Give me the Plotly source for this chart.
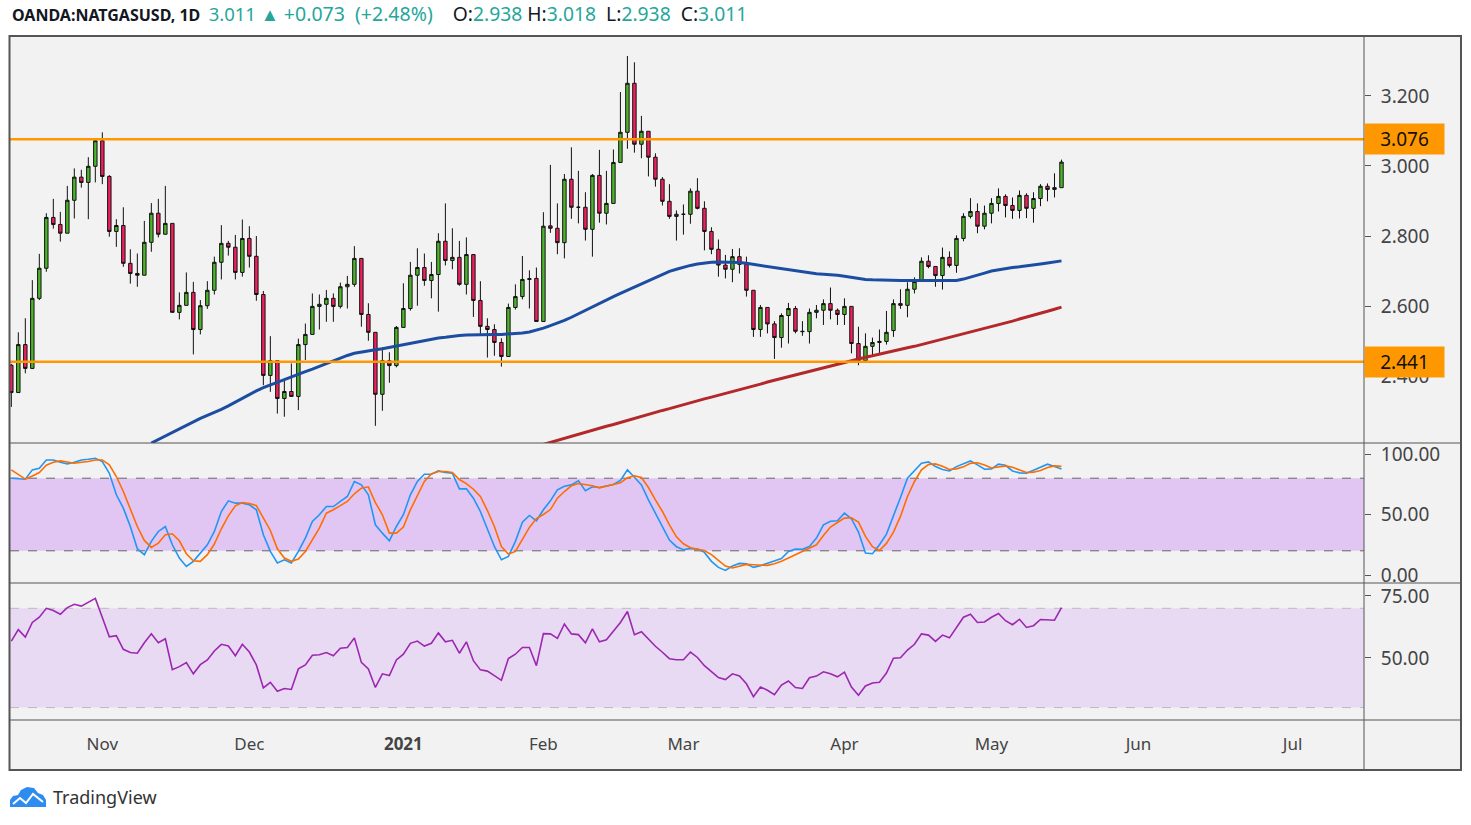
import pandas as pd
import plotly.graph_objects as go

# ---------------- data ----------------
holidays = ["2020-12-25", "2021-01-01", "2021-04-02"]
dates = [d.strftime("%Y-%m-%d") for d in pd.bdate_range("2020-10-14", "2021-05-17")
         if d.strftime("%Y-%m-%d") not in holidays]

open_ = [
    2.431, 2.353, 2.490, 2.422, 2.622, 2.708, 2.853, 2.833, 2.808, 2.902,
    2.968, 2.953, 2.999, 3.072, 2.970, 2.813, 2.830, 2.722, 2.693, 2.688,
    2.782, 2.865, 2.805, 2.836, 2.582, 2.602, 2.639, 2.533, 2.601, 2.645,
    2.725, 2.779, 2.768, 2.696, 2.793, 2.742, 2.633, 2.402, 2.444, 2.336,
    2.356, 2.342, 2.490, 2.519, 2.599, 2.605, 2.622, 2.599, 2.655, 2.662,
    2.736, 2.576, 2.525, 2.348, 2.444, 2.430, 2.539, 2.593, 2.688, 2.710,
    2.673, 2.690, 2.785, 2.730, 2.739, 2.662, 2.747, 2.616, 2.542, 2.533,
    2.496, 2.456, 2.596, 2.627, 2.676, 2.679, 2.556, 2.829, 2.822, 2.781,
    2.962, 2.882, 2.882, 2.819, 2.973, 2.865, 2.893, 3.010, 3.096, 3.236,
    3.062, 3.099, 3.025, 2.962, 2.899, 2.856, 2.862, 2.862, 2.928, 2.879,
    2.813, 2.762, 2.717, 2.705, 2.741, 2.719, 2.645, 2.533, 2.596, 2.549,
    2.510, 2.573, 2.593, 2.528, 2.527, 2.582, 2.588, 2.607, 2.588, 2.576,
    2.599, 2.493, 2.444, 2.485, 2.496, 2.499, 2.530, 2.607, 2.602, 2.648,
    2.670, 2.728, 2.713, 2.687, 2.739, 2.716, 2.793, 2.856, 2.870, 2.828,
    2.865, 2.893, 2.913, 2.887, 2.873, 2.916, 2.879, 2.907, 2.942, 2.933, 2.938,
]
high = [
    2.435, 2.525, 2.565, 2.674, 2.749, 2.865, 2.906, 2.869, 2.943, 2.993,
    2.989, 3.025, 3.079, 3.096, 2.974, 2.848, 2.882, 2.762, 2.750, 2.843,
    2.894, 2.906, 2.943, 2.836, 2.639, 2.696, 2.669, 2.617, 2.671, 2.741,
    2.831, 2.786, 2.803, 2.847, 2.828, 2.800, 2.643, 2.514, 2.444, 2.388,
    2.436, 2.507, 2.550, 2.636, 2.633, 2.646, 2.636, 2.667, 2.686, 2.771,
    2.736, 2.608, 2.525, 2.482, 2.468, 2.543, 2.665, 2.726, 2.765, 2.750,
    2.726, 2.808, 2.893, 2.822, 2.786, 2.796, 2.747, 2.671, 2.565, 2.548,
    2.508, 2.607, 2.662, 2.743, 2.702, 2.710, 2.868, 3.003, 2.893, 2.977,
    3.053, 2.986, 2.925, 2.977, 3.046, 2.986, 3.047, 3.211, 3.314, 3.296,
    3.143, 3.099, 3.036, 2.968, 2.948, 2.873, 2.890, 2.936, 2.965, 2.899,
    2.825, 2.790, 2.746, 2.763, 2.765, 2.741, 2.645, 2.603, 2.596, 2.557,
    2.579, 2.609, 2.600, 2.557, 2.593, 2.603, 2.619, 2.653, 2.593, 2.622,
    2.599, 2.541, 2.522, 2.510, 2.533, 2.586, 2.619, 2.648, 2.668, 2.682,
    2.739, 2.745, 2.713, 2.767, 2.756, 2.802, 2.865, 2.908, 2.893, 2.887,
    2.908, 2.936, 2.919, 2.910, 2.930, 2.922, 2.925, 2.948, 2.950, 2.979, 3.018,
]
low = [
    2.312, 2.353, 2.408, 2.420, 2.617, 2.698, 2.821, 2.784, 2.808, 2.850,
    2.938, 2.848, 2.953, 2.948, 2.798, 2.769, 2.712, 2.664, 2.655, 2.688,
    2.755, 2.796, 2.805, 2.582, 2.562, 2.602, 2.462, 2.519, 2.592, 2.633,
    2.676, 2.744, 2.676, 2.684, 2.710, 2.615, 2.374, 2.355, 2.293, 2.284,
    2.342, 2.303, 2.446, 2.519, 2.533, 2.555, 2.555, 2.593, 2.593, 2.655,
    2.541, 2.501, 2.258, 2.301, 2.381, 2.425, 2.539, 2.587, 2.601, 2.658,
    2.622, 2.584, 2.716, 2.705, 2.658, 2.633, 2.569, 2.520, 2.453, 2.458,
    2.427, 2.456, 2.590, 2.619, 2.593, 2.556, 2.556, 2.809, 2.748, 2.736,
    2.849, 2.836, 2.787, 2.741, 2.838, 2.833, 2.893, 3.010, 3.049, 3.038,
    3.022, 2.970, 2.941, 2.887, 2.849, 2.787, 2.804, 2.835, 2.876, 2.759,
    2.748, 2.684, 2.679, 2.668, 2.693, 2.627, 2.512, 2.512, 2.522, 2.449,
    2.481, 2.493, 2.522, 2.515, 2.493, 2.565, 2.546, 2.562, 2.546, 2.546,
    2.465, 2.431, 2.444, 2.455, 2.465, 2.490, 2.512, 2.592, 2.568, 2.636,
    2.670, 2.708, 2.655, 2.647, 2.710, 2.695, 2.785, 2.850, 2.808, 2.819,
    2.836, 2.870, 2.853, 2.849, 2.850, 2.851, 2.838, 2.885, 2.899, 2.910, 2.938,
]
close = [
    2.353, 2.490, 2.422, 2.622, 2.708, 2.853, 2.833, 2.808, 2.902, 2.968,
    2.953, 2.999, 3.072, 2.970, 2.813, 2.830, 2.722, 2.693, 2.688, 2.782,
    2.865, 2.805, 2.836, 2.582, 2.602, 2.639, 2.533, 2.601, 2.645, 2.725,
    2.779, 2.768, 2.696, 2.793, 2.742, 2.633, 2.402, 2.444, 2.336, 2.356,
    2.342, 2.490, 2.519, 2.599, 2.605, 2.622, 2.599, 2.655, 2.662, 2.736,
    2.576, 2.525, 2.348, 2.444, 2.430, 2.539, 2.593, 2.688, 2.710, 2.673,
    2.690, 2.785, 2.730, 2.739, 2.662, 2.747, 2.616, 2.542, 2.533, 2.496,
    2.456, 2.596, 2.627, 2.676, 2.678, 2.556, 2.828, 2.822, 2.781, 2.962,
    2.882, 2.882, 2.819, 2.973, 2.865, 2.893, 3.010, 3.096, 3.236, 3.062,
    3.099, 3.025, 2.962, 2.899, 2.856, 2.862, 2.862, 2.928, 2.879, 2.813,
    2.762, 2.717, 2.705, 2.741, 2.719, 2.645, 2.533, 2.596, 2.549, 2.510,
    2.573, 2.593, 2.528, 2.527, 2.582, 2.588, 2.607, 2.588, 2.576, 2.599,
    2.493, 2.444, 2.485, 2.496, 2.499, 2.525, 2.607, 2.602, 2.648, 2.670,
    2.728, 2.713, 2.687, 2.739, 2.716, 2.793, 2.856, 2.870, 2.828, 2.865,
    2.893, 2.913, 2.887, 2.873, 2.916, 2.879, 2.907, 2.942, 2.933, 2.938, 3.011,
]

# moving averages (first visible bar index, values)
ma_blue_start = 20
ma_blue = [
    2.209, 2.219, 2.230, 2.240, 2.251, 2.261, 2.270, 2.279, 2.288, 2.296,
    2.305, 2.315, 2.326, 2.337, 2.348, 2.358, 2.367, 2.375, 2.383, 2.391,
    2.398, 2.405, 2.413, 2.420, 2.428, 2.436, 2.444, 2.452, 2.459, 2.465,
    2.469, 2.472, 2.475, 2.478, 2.482, 2.487, 2.491, 2.495, 2.499, 2.502,
    2.506, 2.509, 2.511, 2.514, 2.516, 2.517, 2.518, 2.519, 2.519, 2.519,
    2.519, 2.520, 2.521, 2.523, 2.526, 2.531, 2.537, 2.544, 2.551, 2.559,
    2.568, 2.578, 2.588, 2.598, 2.609, 2.619, 2.627, 2.636, 2.645, 2.653,
    2.662, 2.671, 2.680, 2.690, 2.699, 2.705, 2.711, 2.716, 2.720, 2.723,
    2.725, 2.726, 2.726, 2.725, 2.724, 2.722, 2.719, 2.716, 2.713, 2.710,
    2.707, 2.703, 2.699, 2.696, 2.694, 2.692, 2.691, 2.690, 2.688, 2.685,
    2.682, 2.678, 2.676, 2.675, 2.674, 2.674, 2.674, 2.673, 2.673, 2.673,
    2.672, 2.672, 2.672, 2.672, 2.672, 2.673, 2.677, 2.682, 2.688, 2.694,
    2.700, 2.704, 2.707, 2.710, 2.712, 2.714, 2.717, 2.720, 2.723, 2.726, 2.729,
]
ma_red_start = 76
ma_red = [
    2.205, 2.211, 2.217, 2.222, 2.228, 2.234, 2.240, 2.245, 2.251, 2.257,
    2.262, 2.268, 2.274, 2.280, 2.285, 2.291, 2.296, 2.302, 2.307, 2.313,
    2.318, 2.324, 2.329, 2.335, 2.340, 2.345, 2.351, 2.356, 2.361, 2.367,
    2.372, 2.377, 2.383, 2.388, 2.393, 2.399, 2.404, 2.409, 2.415, 2.420,
    2.425, 2.430, 2.435, 2.440, 2.445, 2.449, 2.454, 2.458, 2.463, 2.467,
    2.472, 2.476, 2.481, 2.485, 2.490, 2.495, 2.500, 2.505, 2.510, 2.515,
    2.520, 2.526, 2.531, 2.536, 2.541, 2.547, 2.552, 2.557, 2.563, 2.568,
    2.574, 2.580, 2.585, 2.591, 2.597,
]

stoch_k = [
    80.0, 79.7, 79.2, 86.9, 88.3, 95.1, 95.1, 93.2, 91.8, 93.2,
    95.1, 95.7, 96.5, 93.8, 84.1, 66.3, 55.3, 40.1, 21.7, 16.8,
    27.8, 36.0, 40.1, 25.0, 14.0, 7.1, 11.3, 18.1, 25.0, 36.0,
    52.5, 61.3, 59.4, 59.4, 58.0, 53.9, 33.3, 19.5, 9.9, 12.6,
    9.9, 19.5, 30.5, 44.3, 49.8, 56.6, 56.6, 60.8, 64.9, 77.3,
    74.5, 66.3, 41.5, 34.6, 28.3, 40.1, 49.8, 66.3, 77.3, 83.3,
    83.3, 86.0, 84.7, 84.1, 71.2, 71.2, 63.5, 52.5, 37.4, 23.6,
    12.6, 15.4, 27.8, 43.7, 49.2, 44.8, 53.9, 61.3, 70.4, 73.4,
    74.5, 77.8, 69.6, 72.9, 72.3, 73.7, 74.8, 78.1, 86.9, 80.8,
    74.5, 62.1, 51.1, 40.1, 28.9, 23.4, 20.9, 22.0, 21.4, 18.7,
    11.3, 6.3, 3.8, 7.4, 9.6, 9.3, 6.3, 7.7, 9.6, 12.1,
    13.7, 19.5, 21.4, 21.2, 23.6, 30.5, 41.5, 44.5, 44.8, 51.1,
    46.5, 35.5, 18.1, 17.6, 25.0, 33.8, 48.4, 64.1, 80.0, 86.0,
    92.4, 93.5, 89.6, 87.2, 86.0, 89.6, 91.8, 94.3, 91.0, 87.4,
    87.7, 91.6, 90.7, 86.0, 84.4, 84.1, 86.6, 89.1, 91.6, 89.6, 87.7,
]
stoch_d = [
    86.9, 82.8, 79.2, 81.9, 84.7, 90.7, 93.2, 94.3, 93.2, 92.4,
    93.2, 93.8, 95.1, 95.1, 91.0, 81.4, 69.0, 55.3, 40.1, 28.6,
    22.8, 26.4, 33.3, 34.1, 28.3, 17.6, 11.8, 11.3, 16.8, 25.6,
    38.2, 48.9, 57.2, 59.9, 59.1, 57.4, 47.0, 36.8, 21.7, 14.0,
    11.3, 13.2, 19.5, 28.6, 38.8, 51.1, 53.9, 57.4, 60.8, 67.1,
    71.8, 72.9, 59.9, 49.8, 34.6, 34.6, 39.6, 53.9, 65.7, 77.3,
    83.6, 85.5, 85.5, 84.7, 78.9, 75.6, 70.9, 64.9, 53.3, 40.1,
    23.6, 17.3, 19.5, 30.0, 39.3, 46.7, 50.0, 54.1, 63.5, 69.0,
    73.7, 75.6, 74.8, 73.7, 72.0, 73.4, 74.2, 76.2, 80.3, 81.9,
    80.6, 72.3, 62.1, 52.5, 41.5, 31.6, 25.8, 22.5, 21.2, 20.3,
    16.8, 11.8, 7.4, 5.8, 7.4, 8.8, 8.5, 8.0, 8.0, 9.3,
    11.3, 14.0, 16.8, 19.5, 22.0, 25.0, 32.7, 39.6, 43.4, 47.0,
    47.3, 43.7, 31.9, 23.4, 20.3, 26.1, 35.5, 48.4, 64.9, 77.3,
    86.9, 91.3, 91.8, 89.9, 87.2, 87.7, 89.4, 92.4, 92.7, 91.0,
    88.5, 89.1, 90.2, 89.1, 86.6, 84.7, 85.0, 86.3, 88.8, 90.2, 89.9,
]
rsi = [
    56.8, 61.4, 58.4, 64.3, 66.4, 70.0, 69.1, 67.6, 70.3, 71.6,
    70.9, 72.4, 74.0, 66.3, 58.5, 59.0, 53.5, 52.2, 51.9, 56.1,
    59.7, 56.1, 57.7, 45.3, 46.5, 48.1, 43.6, 47.3, 49.2, 52.8,
    55.5, 54.8, 50.9, 55.5, 52.4, 47.2, 37.9, 40.2, 36.6, 37.7,
    37.3, 45.6, 47.2, 51.1, 51.3, 52.2, 50.9, 53.9, 54.2, 58.1,
    48.2, 45.6, 38.1, 43.6, 42.9, 49.2, 51.5, 55.9, 56.8, 54.8,
    55.9, 60.1, 56.5, 57.1, 51.9, 56.5, 48.9, 45.2, 44.7, 42.9,
    41.0, 49.8, 51.5, 54.2, 54.2, 46.9, 59.8, 59.7, 57.9, 63.7,
    59.7, 59.4, 56.1, 61.7, 56.5, 57.3, 61.0, 64.3, 68.7, 59.4,
    60.6, 57.5, 54.7, 52.3, 49.7, 49.3, 49.3, 52.4, 50.2, 46.9,
    44.3, 42.1, 41.3, 43.6, 42.7, 39.6, 34.4, 38.3, 37.0, 35.2,
    39.1, 40.7, 38.1, 37.7, 42.0, 42.7, 44.4, 43.6, 42.4, 44.3,
    38.3, 35.0, 38.7, 39.9, 40.2, 43.9, 49.9, 50.1, 53.2, 55.5,
    59.7, 59.2, 56.7, 59.2, 58.1, 62.1, 66.4, 67.6, 64.3, 64.5,
    66.4, 67.9, 65.0, 63.4, 65.6, 62.3, 63.0, 65.5, 65.4, 65.2, 70.3,
]

level_hi = 3.076
level_lo = 2.441
stoch_band = [20, 80]
rsi_band = [30, 70]

price_ticks = [2.4, 2.6, 2.8, 3.0, 3.2]
stoch_ticks = [0, 50, 100]
rsi_ticks = [50, 75]
month_ticks = ["2020-11-02", "2020-12-01", "2021-01-04", "2021-02-01", "2021-03-01",
               "2021-04-01", "2021-05-03", "2021-06-01", "2021-07-01"]
month_labels = ["Nov", "Dec", "<b>2021</b>", "Feb", "Mar", "Apr", "May", "Jun", "Jul"]

assert len(dates) == len(close) == len(stoch_k) == len(rsi)

# ---------------- styling ----------------
GREEN = "#4DB52B"
RED = "#F0205F"
TEAL = "#26A69A"
AXIS_TXT = "#444444"
FRAME = "#555555"
FONT = "Noto Sans"

# page pixel positions of the plot area (body margin removed by post_script)
L, R, T, B = 10, 1364, 36, 720
FIG_W, FIG_H = 1471, 825


def px(X):
    return (X - L) / (R - L)


def py(Y):
    return (B - Y) / (B - T)


fig = go.Figure()

fig.add_trace(go.Candlestick(
    x=dates, open=open_, high=high, low=low, close=close,
    increasing=dict(fillcolor=GREEN, line=dict(color="#111111", width=1)),
    decreasing=dict(fillcolor=RED, line=dict(color="#111111", width=1)),
    whiskerwidth=0, hoverinfo="skip", xaxis="x", yaxis="y",
))
fig.add_trace(go.Scatter(x=dates[ma_blue_start:], y=ma_blue, mode="lines",
                         line=dict(color="#1C4DA1", width=3), xaxis="x", yaxis="y", hoverinfo="skip"))
fig.add_trace(go.Scatter(x=dates[ma_red_start:], y=ma_red, mode="lines",
                         line=dict(color="#B3282A", width=3), xaxis="x", yaxis="y", hoverinfo="skip"))
fig.add_trace(go.Scatter(x=dates, y=stoch_k, mode="lines",
                         line=dict(color="#2196F3", width=1.6), xaxis="x", yaxis="y2", hoverinfo="skip"))
fig.add_trace(go.Scatter(x=dates, y=stoch_d, mode="lines",
                         line=dict(color="#FF6D00", width=1.6), xaxis="x", yaxis="y2", hoverinfo="skip"))
fig.add_trace(go.Scatter(x=dates, y=rsi, mode="lines",
                         line=dict(color="#9C27B0", width=1.6), xaxis="x", yaxis="y3", hoverinfo="skip"))

shapes = [
    # gray chart frame background
    dict(type="rect", xref="paper", yref="paper", x0=px(9), x1=px(1461), y0=py(770), y1=py(36),
         fillcolor="#F2F2F2", line=dict(width=0), layer="below"),
    # stochastic band
    dict(type="rect", xref="paper", yref="y2", x0=0, x1=1, y0=stoch_band[0], y1=stoch_band[1],
         fillcolor="#E1C6F4", line=dict(width=0), layer="below"),
    dict(type="line", xref="paper", yref="y2", x0=0, x1=1, y0=stoch_band[1], y1=stoch_band[1],
         line=dict(color="#666666", width=1, dash="dash"), layer="below"),
    dict(type="line", xref="paper", yref="y2", x0=0, x1=1, y0=stoch_band[0], y1=stoch_band[0],
         line=dict(color="#666666", width=1, dash="dash"), layer="below"),
    # RSI band
    dict(type="rect", xref="paper", yref="y3", x0=0, x1=1, y0=rsi_band[0], y1=rsi_band[1],
         fillcolor="#E9DAF3", line=dict(width=0), layer="below"),
    dict(type="line", xref="paper", yref="y3", x0=0, x1=1, y0=rsi_band[1], y1=rsi_band[1],
         line=dict(color="#BBBBBB", width=1, dash="dash"), layer="below"),
    dict(type="line", xref="paper", yref="y3", x0=0, x1=1, y0=rsi_band[0], y1=rsi_band[0],
         line=dict(color="#BBBBBB", width=1, dash="dash"), layer="below"),
    # horizontal levels
    dict(type="line", xref="paper", yref="y", x0=0, x1=1, y0=level_hi, y1=level_hi,
         line=dict(color="#FF9800", width=2.5), layer="above"),
    dict(type="line", xref="paper", yref="y", x0=0, x1=1, y0=level_lo, y1=level_lo,
         line=dict(color="#FF9800", width=2.5), layer="above"),
    # pane separators
    dict(type="line", xref="paper", yref="paper", x0=px(9), x1=px(1461), y0=py(443), y1=py(443),
         line=dict(color=FRAME, width=1), layer="above"),
    dict(type="line", xref="paper", yref="paper", x0=px(9), x1=px(1461), y0=py(583), y1=py(583),
         line=dict(color=FRAME, width=1), layer="above"),
    dict(type="line", xref="paper", yref="paper", x0=px(9), x1=px(1461), y0=py(720), y1=py(720),
         line=dict(color=FRAME, width=1), layer="above"),
    dict(type="line", xref="paper", yref="paper", x0=px(1364), x1=px(1364), y0=py(770), y1=py(36),
         line=dict(color=FRAME, width=1), layer="above"),
    # outer frame
    dict(type="rect", xref="paper", yref="paper", x0=px(9.5), x1=px(1461), y0=py(770), y1=py(36),
         fillcolor="rgba(0,0,0,0)", line=dict(color=FRAME, width=2), layer="above"),
]

# TradingView logo (simple cloud + zigzag)
cloud = [(10, 807), (10, 800), (13, 796), (18, 795), (21, 790), (27, 787), (34, 788),
         (38, 793), (43, 795), (46, 800), (46, 807)]
path = "M " + " L ".join(f"{px(a):.5f},{py(b):.5f}" for a, b in cloud) + " Z"
shapes.append(dict(type="path", xref="paper", yref="paper", path=path,
                   fillcolor="#2E8BEF", line=dict(width=0), layer="above"))
zig = [(13, 804), (20, 798), (26, 803), (33, 794), (43, 802)]
zpath = "M " + " L ".join(f"{px(a):.5f},{py(b):.5f}" for a, b in zig)
shapes.append(dict(type="path", xref="paper", yref="paper", path=zpath,
                   line=dict(color="white", width=2), layer="above"))

last_c, prev_c = close[-1], close[-2]
chg = last_c - prev_c
pct = chg / prev_c * 100
sp = "&nbsp;"
big = "font-size:18.5px"
mid = "font-size:19.5px"
ohlc = "font-size:19.3px"
header = (f"<b>OANDA:NATGASUSD, 1D</b>{sp}{sp}"
          f"<span style='color:{TEAL};{big}'>{last_c:.3f}{sp}▲{sp}</span>"
          f"<span style='color:{TEAL};{mid}'>+{chg:.3f}{sp}{sp}(+{pct:.2f}%)</span>"
          f"<span style='{ohlc}'>{sp}{sp}{sp}{sp}O:</span><span style='color:{TEAL};{ohlc}'>{open_[-1]:.3f}</span>"
          f"<span style='{ohlc}'>{sp}H:</span><span style='color:{TEAL};{ohlc}'>{high[-1]:.3f}</span>"
          f"<span style='{ohlc}'>{sp}{sp}L:</span><span style='color:{TEAL};{ohlc}'>{low[-1]:.3f}</span>"
          f"<span style='{ohlc}'>{sp}{sp}C:</span><span style='color:{TEAL};{ohlc}'>{last_c:.3f}</span>")

annotations = [
    dict(xref="paper", yref="paper", x=px(10), y=py(14), xanchor="left", yanchor="middle",
         text=header, showarrow=False, font=dict(family=FONT, size=16, color="#131722")),
    dict(xref="paper", yref="paper", x=px(51), y=py(797), xanchor="left", yanchor="middle",
         text="TradingView", showarrow=False, font=dict(family=FONT, size=18, color="#333333")),
]
for lv in (level_hi, level_lo):
    annotations.append(dict(xref="paper", yref="y", x=1.0, y=lv, xanchor="left", yanchor="middle",
                            text=f"{lv:.3f}", showarrow=False, bgcolor="#FF9800", width=79, height=30,
                            borderpad=0, font=dict(family=FONT, size=19, color="#111111")))

yax_common = dict(side="right", anchor="x", showgrid=False, zeroline=False, showline=False,
                  ticks="outside", ticklen=6, tickcolor=FRAME, ticklabelstandoff=6,
                  tickfont=dict(family=FONT, size=19, color=AXIS_TXT), fixedrange=True)

fig.update_layout(
    width=FIG_W, height=FIG_H, autosize=False,
    margin=dict(l=L, r=FIG_W - R, t=T, b=FIG_H - B),
    paper_bgcolor="white", plot_bgcolor="rgba(0,0,0,0)",
    showlegend=False, hovermode=False,
    boxgap=0.3,
    xaxis=dict(
        domain=[0, 1], anchor="y3", type="date",
        range=["2020-10-13 19:30", "2021-07-15 05:00"],
        rangebreaks=[dict(bounds=["sat", "mon"]), dict(values=holidays)],
        rangeslider=dict(visible=False),
        tickvals=month_ticks, ticktext=month_labels,
        showgrid=False, zeroline=False, showline=False, ticks="",
        ticklabelstandoff=12,
        tickfont=dict(family=FONT, size=17, color=AXIS_TXT), fixedrange=True,
    ),
    yaxis=dict(domain=[py(443), 1], range=[2.209, 3.371], tickvals=price_ticks,
               tickformat=".3f", **yax_common),
    yaxis2=dict(domain=[py(583), py(443)], range=[-6.6, 109.1], tickvals=stoch_ticks,
                tickformat=".2f", **yax_common),
    yaxis3=dict(domain=[0, py(583)], range=[25.0, 80.2], tickvals=rsi_ticks,
                tickformat=".2f", **yax_common),
    shapes=shapes,
    annotations=annotations,
)

fig.write_html("out.html", config={"displayModeBar": False, "staticPlot": True},
               post_script="document.body.style.margin='0px';")
